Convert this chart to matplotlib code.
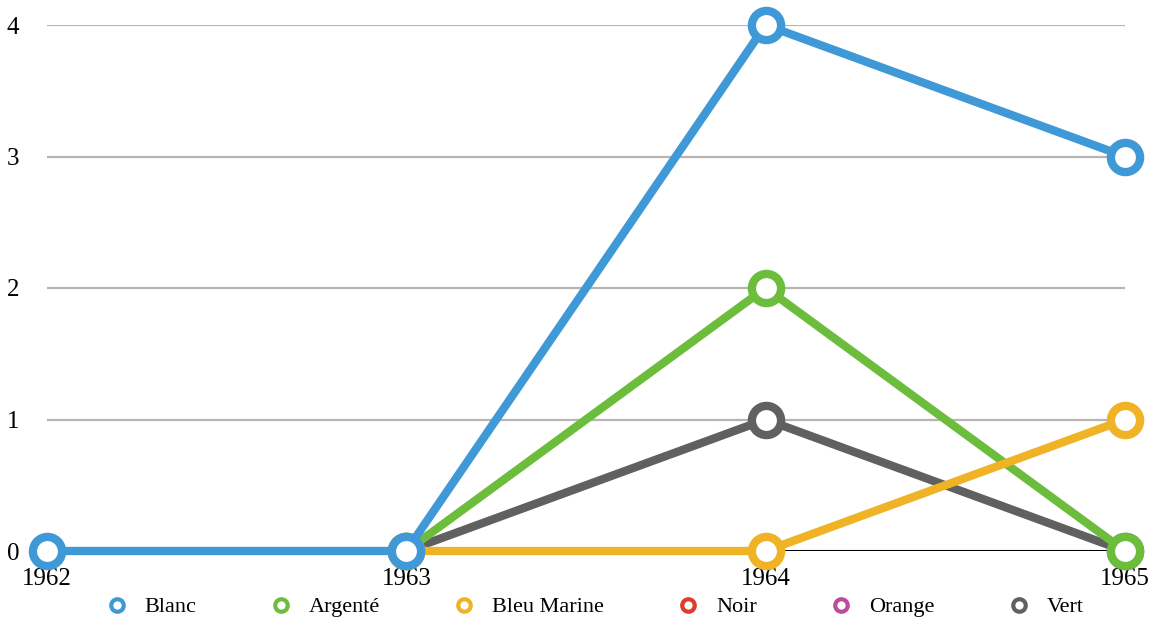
import numpy as np
import matplotlib
matplotlib.use('Agg')
import matplotlib.pyplot as plt
from matplotlib.lines import Line2D

years = [1962, 1963, 1964, 1965]
nan = np.nan
series_names = ['Blanc', 'Argenté', 'Bleu Marine', 'Noir', 'Orange', 'Vert']
blanc = [0, 0, 4, 3]
argente = [nan, 0, 2, 0]
bleu_marine = [nan, 0, 0, 1]
noir = [nan, nan, nan, nan]
orange = [nan, nan, nan, nan]
vert = [nan, 0, 1, 0]
colors = ['#3f99d6', '#6cbd3c', '#efb325', '#e03b2b', '#c04a9c', '#606060']
y_ticks = [0, 1, 2, 3, 4]

plt.rcParams['font.family'] = ['Liberation Serif', 'DejaVu Serif']

fig = plt.figure(figsize=(11.57, 6.26), dpi=100)
ax = fig.add_axes([47 / 1157, 75 / 626, (1125 - 47) / 1157, (551 - 25) / 626])

for y in y_ticks[1:]:
    ax.axhline(y, color='#b8b4b4', lw=1.6, zorder=1)
ax.axhline(0, color='black', lw=1.5, zorder=1)

data = [blanc, argente, bleu_marine, noir, orange, vert]
order = [5, 3, 4, 1, 2, 0]  # draw order: Vert, Noir, Orange, Argenté, Bleu Marine, Blanc
for i in order:
    ax.plot(years, data[i], color=colors[i], lw=6, marker='o', ms=21,
            mfc='white', mec=colors[i], mew=6, clip_on=False, zorder=3 + order.index(i))

ax.set_xlim(1962, 1965)
ax.set_ylim(0, 4)
ax.set_xticks(years)
ax.set_yticks(y_ticks)
ax.tick_params(axis='both', length=0, labelsize=18)
ax.tick_params(axis='y', pad=20)
ax.tick_params(axis='x', pad=12)
for s in ax.spines.values():
    s.set_visible(False)

handles = [Line2D([], [], color=c, lw=0, marker='o', ms=9, mfc='white', mec=c, mew=3)
           for c in colors]
fig.legend(handles, series_names, loc='center', bbox_to_anchor=(0.514, 0.03), ncol=6,
           frameon=False, fontsize=16, columnspacing=3.3, handlelength=1.0,
           handletextpad=0.75)

fig.savefig('out.png', dpi=100)
